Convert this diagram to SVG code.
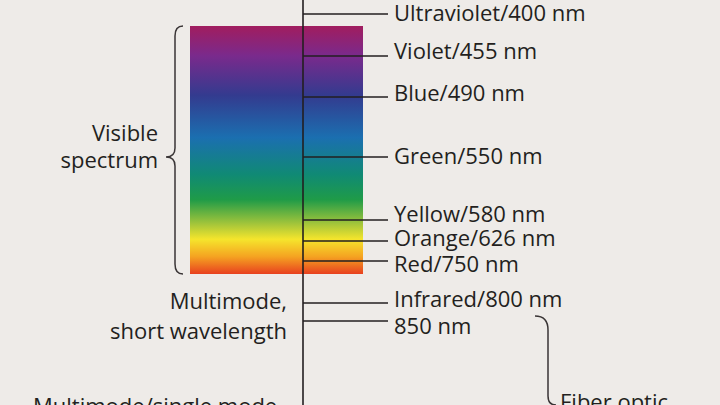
<svg xmlns="http://www.w3.org/2000/svg" width="720" height="405" viewBox="0 0 720 405">
<defs>
<linearGradient id="spec" x1="0" y1="0" x2="0" y2="1">
<stop offset="0" stop-color="#a11d5f"/>
<stop offset="0.12" stop-color="#7a2a8c"/>
<stop offset="0.28" stop-color="#333b8f"/>
<stop offset="0.45" stop-color="#1b6fb0"/>
<stop offset="0.6" stop-color="#108a74"/>
<stop offset="0.7" stop-color="#1f9b48"/>
<stop offset="0.8" stop-color="#a6c63a"/>
<stop offset="0.86" stop-color="#f5e52c"/>
<stop offset="0.93" stop-color="#f5a321"/>
<stop offset="1" stop-color="#e8401f"/>
</linearGradient>
<style>
.t{font-family:"Open Sans","Noto Sans",sans-serif;font-size:22px;fill:#231f20}
.r{text-anchor:end}
.ln{stroke:#231f20;stroke-width:1.6;fill:none}
.br{stroke:#3a3536;stroke-width:1.5;fill:none}
</style>
</defs>
<rect width="720" height="405" fill="#eeebe8"/>
<g id="spectrum">
<rect x="190" y="26" width="173" height="248" fill="url(#spec)"/>
</g>
<g id="visible">
<path class="br" d="M183,26 Q175,26 175,36 L175,148 Q175,157 166,157 Q175,157 175,166 L175,264 Q175,274 183,274"/>
<text class="t r" x="158" y="141">Visible</text>
<text class="t r" x="158" y="168">spectrum</text>
</g>
<g id="multimode-short">
<text class="t r" x="287" y="309">Multimode,</text>
<text class="t r" x="287" y="339">short wavelength</text>
</g>
<g id="multimode-single">
<text class="t" x="33" y="414">Multimode/single mode</text>
</g>
<g id="fiber-optic">
<path class="br" d="M535,316 Q548,316 548,330 L548,396 Q548,405 556,405"/>
<text class="t" x="560" y="410">Fiber optic</text>
</g>
<g id="connectors">
<line class="ln" x1="303" y1="0" x2="303" y2="405"/>
<line class="ln" x1="303" y1="14" x2="388" y2="14"/>
<line class="ln" x1="303" y1="56" x2="388" y2="56"/>
<line class="ln" x1="303" y1="97" x2="388" y2="97"/>
<line class="ln" x1="303" y1="157" x2="388" y2="157"/>
<line class="ln" x1="303" y1="220" x2="388" y2="220"/>
<line class="ln" x1="303" y1="241" x2="388" y2="241"/>
<line class="ln" x1="303" y1="261" x2="388" y2="261"/>
<line class="ln" x1="303" y1="303" x2="388" y2="303"/>
<line class="ln" x1="303" y1="321" x2="388" y2="321"/>
</g>
<g id="labels">
<text class="t" x="394" y="21">Ultraviolet/400 nm</text>
<text class="t" x="394" y="59">Violet/455 nm</text>
<text class="t" x="394" y="101">Blue/490 nm</text>
<text class="t" x="394" y="164">Green/550 nm</text>
<text class="t" x="394" y="222">Yellow/580 nm</text>
<text class="t" x="394" y="246">Orange/626 nm</text>
<text class="t" x="394" y="272">Red/750 nm</text>
<text class="t" x="394" y="307">Infrared/800 nm</text>
<text class="t" x="394" y="334">850 nm</text>
</g>
</svg>
